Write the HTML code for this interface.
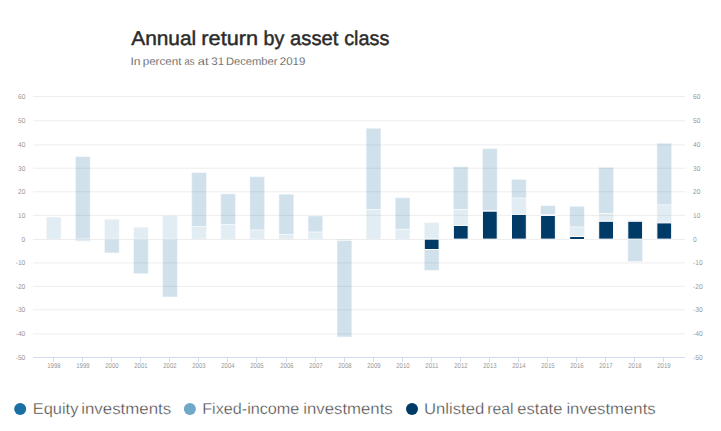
<!DOCTYPE html>
<html><head><meta charset="utf-8"><style>
html,body{margin:0;padding:0;background:#fff;width:721px;height:431px;overflow:hidden}
svg{position:absolute;left:0;top:0;font-family:"Liberation Sans",sans-serif;text-rendering:geometricPrecision}
</style></head><body>
<svg width="721" height="431" viewBox="0 0 721 431">
<text x="131.21" y="44.6" font-size="20" fill="#2b2b2b" stroke="#2b2b2b" stroke-width="0.45" textLength="65.01" lengthAdjust="spacingAndGlyphs">Annual</text>
<text x="201.37" y="44.6" font-size="20" fill="#2b2b2b" stroke="#2b2b2b" stroke-width="0.45" textLength="56.76" lengthAdjust="spacingAndGlyphs">return</text>
<text x="263.46" y="44.6" font-size="20" fill="#2b2b2b" stroke="#2b2b2b" stroke-width="0.45" textLength="20.80" lengthAdjust="spacingAndGlyphs">by</text>
<text x="290.12" y="44.6" font-size="20" fill="#2b2b2b" stroke="#2b2b2b" stroke-width="0.45" textLength="48.30" lengthAdjust="spacingAndGlyphs">asset</text>
<text x="344.19" y="44.6" font-size="20" fill="#2b2b2b" stroke="#2b2b2b" stroke-width="0.45" textLength="45.23" lengthAdjust="spacingAndGlyphs">class</text>
<text x="130.48" y="64.9" font-size="11" fill="#505050" stroke="#fff" stroke-width="0.15" textLength="10.12" lengthAdjust="spacingAndGlyphs">In</text>
<text x="142.70" y="64.9" font-size="11" fill="#505050" stroke="#fff" stroke-width="0.15" textLength="38.74" lengthAdjust="spacingAndGlyphs">percent</text>
<text x="184.44" y="64.9" font-size="11" fill="#505050" stroke="#fff" stroke-width="0.15" textLength="9.87" lengthAdjust="spacingAndGlyphs">as</text>
<text x="197.81" y="64.9" font-size="11" fill="#505050" stroke="#fff" stroke-width="0.15" textLength="10.70" lengthAdjust="spacingAndGlyphs">at</text>
<text x="211.34" y="64.9" font-size="11" fill="#505050" stroke="#fff" stroke-width="0.15" textLength="12.76" lengthAdjust="spacingAndGlyphs">31</text>
<text x="225.95" y="64.9" font-size="11" fill="#505050" stroke="#fff" stroke-width="0.15" textLength="51.52" lengthAdjust="spacingAndGlyphs">December</text>
<text x="279.82" y="64.9" font-size="11" fill="#505050" stroke="#fff" stroke-width="0.15" textLength="25.56" lengthAdjust="spacingAndGlyphs">2019</text>
<text x="32.81" y="413.8" font-size="15.8" fill="#3c3c3c" stroke="#fff" stroke-width="0.35" textLength="45.56" lengthAdjust="spacingAndGlyphs">Equity</text>
<text x="81.20" y="413.8" font-size="15.8" fill="#3c3c3c" stroke="#fff" stroke-width="0.35" textLength="90.06" lengthAdjust="spacingAndGlyphs">investments</text>
<text x="202.26" y="413.8" font-size="15.8" fill="#3c3c3c" stroke="#fff" stroke-width="0.35" textLength="97.00" lengthAdjust="spacingAndGlyphs">Fixed-income</text>
<text x="303.21" y="413.8" font-size="15.8" fill="#3c3c3c" stroke="#fff" stroke-width="0.35" textLength="89.57" lengthAdjust="spacingAndGlyphs">investments</text>
<text x="424.01" y="413.8" font-size="15.8" fill="#3c3c3c" stroke="#fff" stroke-width="0.35" textLength="60.31" lengthAdjust="spacingAndGlyphs">Unlisted</text>
<text x="487.30" y="413.8" font-size="15.8" fill="#3c3c3c" stroke="#fff" stroke-width="0.35" textLength="26.26" lengthAdjust="spacingAndGlyphs">real</text>
<text x="517.34" y="413.8" font-size="15.8" fill="#3c3c3c" stroke="#fff" stroke-width="0.35" textLength="45.05" lengthAdjust="spacingAndGlyphs">estate</text>
<text x="566.40" y="413.8" font-size="15.8" fill="#3c3c3c" stroke="#fff" stroke-width="0.35" textLength="89.28" lengthAdjust="spacingAndGlyphs">investments</text>
<g><line x1="33" x2="685" y1="96.60" y2="96.60" stroke="#ededed" stroke-width="1"/><line x1="33" x2="685" y1="120.80" y2="120.80" stroke="#ededed" stroke-width="1"/><line x1="33" x2="685" y1="144.90" y2="144.90" stroke="#ededed" stroke-width="1"/><line x1="33" x2="685" y1="168.20" y2="168.20" stroke="#ededed" stroke-width="1"/><line x1="33" x2="685" y1="191.80" y2="191.80" stroke="#ededed" stroke-width="1"/><line x1="33" x2="685" y1="215.30" y2="215.30" stroke="#ededed" stroke-width="1"/><line x1="33" x2="685" y1="239.50" y2="239.50" stroke="#ededed" stroke-width="1"/><line x1="33" x2="685" y1="262.90" y2="262.90" stroke="#ededed" stroke-width="1"/><line x1="33" x2="685" y1="286.30" y2="286.30" stroke="#ededed" stroke-width="1"/><line x1="33" x2="685" y1="309.80" y2="309.80" stroke="#ededed" stroke-width="1"/><line x1="33" x2="685" y1="333.90" y2="333.90" stroke="#ededed" stroke-width="1"/></g>
<g font-size="7" fill="#959595"><text x="18.00" y="98.90" textLength="7.3" lengthAdjust="spacingAndGlyphs">60</text><text x="693" y="98.90" textLength="7.3" lengthAdjust="spacingAndGlyphs">60</text><text x="18.00" y="123.10" textLength="7.3" lengthAdjust="spacingAndGlyphs">50</text><text x="693" y="123.10" textLength="7.3" lengthAdjust="spacingAndGlyphs">50</text><text x="18.00" y="147.20" textLength="7.3" lengthAdjust="spacingAndGlyphs">40</text><text x="693" y="147.20" textLength="7.3" lengthAdjust="spacingAndGlyphs">40</text><text x="18.00" y="170.50" textLength="7.3" lengthAdjust="spacingAndGlyphs">30</text><text x="693" y="170.50" textLength="7.3" lengthAdjust="spacingAndGlyphs">30</text><text x="18.00" y="194.10" textLength="7.3" lengthAdjust="spacingAndGlyphs">20</text><text x="693" y="194.10" textLength="7.3" lengthAdjust="spacingAndGlyphs">20</text><text x="18.00" y="217.60" textLength="7.3" lengthAdjust="spacingAndGlyphs">10</text><text x="693" y="217.60" textLength="7.3" lengthAdjust="spacingAndGlyphs">10</text><text x="21.60" y="241.80" textLength="3.7" lengthAdjust="spacingAndGlyphs">0</text><text x="693" y="241.80" textLength="3.7" lengthAdjust="spacingAndGlyphs">0</text><text x="15.70" y="265.20" textLength="9.6" lengthAdjust="spacingAndGlyphs">-10</text><text x="693" y="265.20" textLength="9.6" lengthAdjust="spacingAndGlyphs">-10</text><text x="15.70" y="288.60" textLength="9.6" lengthAdjust="spacingAndGlyphs">-20</text><text x="693" y="288.60" textLength="9.6" lengthAdjust="spacingAndGlyphs">-20</text><text x="15.70" y="312.10" textLength="9.6" lengthAdjust="spacingAndGlyphs">-30</text><text x="693" y="312.10" textLength="9.6" lengthAdjust="spacingAndGlyphs">-30</text><text x="15.70" y="336.20" textLength="9.6" lengthAdjust="spacingAndGlyphs">-40</text><text x="693" y="336.20" textLength="9.6" lengthAdjust="spacingAndGlyphs">-40</text><text x="15.70" y="359.70" textLength="9.6" lengthAdjust="spacingAndGlyphs">-50</text><text x="693" y="359.70" textLength="9.6" lengthAdjust="spacingAndGlyphs">-50</text></g>
<line x1="33" x2="685" y1="357.50" y2="357.50" stroke="#d3dcee" stroke-width="1"/>
<line x1="53.50" x2="53.50" y1="357.50" y2="362.00" stroke="#d3dcee" stroke-width="1"/><line x1="82.50" x2="82.50" y1="357.50" y2="362.00" stroke="#d3dcee" stroke-width="1"/><line x1="111.50" x2="111.50" y1="357.50" y2="362.00" stroke="#d3dcee" stroke-width="1"/><line x1="140.50" x2="140.50" y1="357.50" y2="362.00" stroke="#d3dcee" stroke-width="1"/><line x1="169.50" x2="169.50" y1="357.50" y2="362.00" stroke="#d3dcee" stroke-width="1"/><line x1="198.50" x2="198.50" y1="357.50" y2="362.00" stroke="#d3dcee" stroke-width="1"/><line x1="227.50" x2="227.50" y1="357.50" y2="362.00" stroke="#d3dcee" stroke-width="1"/><line x1="256.50" x2="256.50" y1="357.50" y2="362.00" stroke="#d3dcee" stroke-width="1"/><line x1="286.50" x2="286.50" y1="357.50" y2="362.00" stroke="#d3dcee" stroke-width="1"/><line x1="315.50" x2="315.50" y1="357.50" y2="362.00" stroke="#d3dcee" stroke-width="1"/><line x1="344.50" x2="344.50" y1="357.50" y2="362.00" stroke="#d3dcee" stroke-width="1"/><line x1="373.50" x2="373.50" y1="357.50" y2="362.00" stroke="#d3dcee" stroke-width="1"/><line x1="402.50" x2="402.50" y1="357.50" y2="362.00" stroke="#d3dcee" stroke-width="1"/><line x1="431.50" x2="431.50" y1="357.50" y2="362.00" stroke="#d3dcee" stroke-width="1"/><line x1="460.50" x2="460.50" y1="357.50" y2="362.00" stroke="#d3dcee" stroke-width="1"/><line x1="489.50" x2="489.50" y1="357.50" y2="362.00" stroke="#d3dcee" stroke-width="1"/><line x1="518.50" x2="518.50" y1="357.50" y2="362.00" stroke="#d3dcee" stroke-width="1"/><line x1="547.50" x2="547.50" y1="357.50" y2="362.00" stroke="#d3dcee" stroke-width="1"/><line x1="576.50" x2="576.50" y1="357.50" y2="362.00" stroke="#d3dcee" stroke-width="1"/><line x1="605.50" x2="605.50" y1="357.50" y2="362.00" stroke="#d3dcee" stroke-width="1"/><line x1="634.50" x2="634.50" y1="357.50" y2="362.00" stroke="#d3dcee" stroke-width="1"/><line x1="663.50" x2="663.50" y1="357.50" y2="362.00" stroke="#d3dcee" stroke-width="1"/>
<g font-size="7" fill="#959595"><text x="53.90" y="367.8" text-anchor="middle" textLength="13.2" lengthAdjust="spacingAndGlyphs">1998</text><text x="82.90" y="367.8" text-anchor="middle" textLength="13.2" lengthAdjust="spacingAndGlyphs">1999</text><text x="111.90" y="367.8" text-anchor="middle" textLength="13.2" lengthAdjust="spacingAndGlyphs">2000</text><text x="140.90" y="367.8" text-anchor="middle" textLength="13.2" lengthAdjust="spacingAndGlyphs">2001</text><text x="169.90" y="367.8" text-anchor="middle" textLength="13.2" lengthAdjust="spacingAndGlyphs">2002</text><text x="198.90" y="367.8" text-anchor="middle" textLength="13.2" lengthAdjust="spacingAndGlyphs">2003</text><text x="227.90" y="367.8" text-anchor="middle" textLength="13.2" lengthAdjust="spacingAndGlyphs">2004</text><text x="256.90" y="367.8" text-anchor="middle" textLength="13.2" lengthAdjust="spacingAndGlyphs">2005</text><text x="286.90" y="367.8" text-anchor="middle" textLength="13.2" lengthAdjust="spacingAndGlyphs">2006</text><text x="315.90" y="367.8" text-anchor="middle" textLength="13.2" lengthAdjust="spacingAndGlyphs">2007</text><text x="344.90" y="367.8" text-anchor="middle" textLength="13.2" lengthAdjust="spacingAndGlyphs">2008</text><text x="373.90" y="367.8" text-anchor="middle" textLength="13.2" lengthAdjust="spacingAndGlyphs">2009</text><text x="402.90" y="367.8" text-anchor="middle" textLength="13.2" lengthAdjust="spacingAndGlyphs">2010</text><text x="431.90" y="367.8" text-anchor="middle" textLength="13.2" lengthAdjust="spacingAndGlyphs">2011</text><text x="460.90" y="367.8" text-anchor="middle" textLength="13.2" lengthAdjust="spacingAndGlyphs">2012</text><text x="489.90" y="367.8" text-anchor="middle" textLength="13.2" lengthAdjust="spacingAndGlyphs">2013</text><text x="518.90" y="367.8" text-anchor="middle" textLength="13.2" lengthAdjust="spacingAndGlyphs">2014</text><text x="547.90" y="367.8" text-anchor="middle" textLength="13.2" lengthAdjust="spacingAndGlyphs">2015</text><text x="576.90" y="367.8" text-anchor="middle" textLength="13.2" lengthAdjust="spacingAndGlyphs">2016</text><text x="605.90" y="367.8" text-anchor="middle" textLength="13.2" lengthAdjust="spacingAndGlyphs">2017</text><text x="634.90" y="367.8" text-anchor="middle" textLength="13.2" lengthAdjust="spacingAndGlyphs">2018</text><text x="663.90" y="367.8" text-anchor="middle" textLength="13.2" lengthAdjust="spacingAndGlyphs">2019</text></g>
<g opacity="0.2">
<rect x="75.38" y="156.55" width="14.80" height="82.57" fill="#1a6fa3" stroke="rgba(255,255,255,0.45)" stroke-width="1"/>
<rect x="104.45" y="239.12" width="14.80" height="13.81" fill="#1a6fa3" stroke="rgba(255,255,255,0.45)" stroke-width="1"/>
<rect x="133.52" y="239.12" width="14.80" height="34.63" fill="#1a6fa3" stroke="rgba(255,255,255,0.45)" stroke-width="1"/>
<rect x="162.60" y="239.12" width="14.80" height="57.85" fill="#1a6fa3" stroke="rgba(255,255,255,0.45)" stroke-width="1"/>
<rect x="191.68" y="172.47" width="14.80" height="54.18" fill="#1a6fa3" stroke="rgba(255,255,255,0.45)" stroke-width="1"/>
<rect x="220.75" y="193.81" width="14.80" height="30.84" fill="#1a6fa3" stroke="rgba(255,255,255,0.45)" stroke-width="1"/>
<rect x="249.82" y="176.71" width="14.80" height="53.35" fill="#1a6fa3" stroke="rgba(255,255,255,0.45)" stroke-width="1"/>
<rect x="278.90" y="194.12" width="14.80" height="40.42" fill="#1a6fa3" stroke="rgba(255,255,255,0.45)" stroke-width="1"/>
<rect x="307.98" y="215.92" width="14.80" height="16.18" fill="#1a6fa3" stroke="rgba(255,255,255,0.45)" stroke-width="1"/>
<rect x="337.05" y="240.40" width="14.80" height="96.56" fill="#1a6fa3" stroke="rgba(255,255,255,0.45)" stroke-width="1"/>
<rect x="366.12" y="128.21" width="14.80" height="81.29" fill="#1a6fa3" stroke="rgba(255,255,255,0.45)" stroke-width="1"/>
<rect x="395.20" y="197.73" width="14.80" height="31.64" fill="#1a6fa3" stroke="rgba(255,255,255,0.45)" stroke-width="1"/>
<rect x="424.27" y="249.49" width="14.80" height="20.97" fill="#1a6fa3" stroke="rgba(255,255,255,0.45)" stroke-width="1"/>
<rect x="453.35" y="166.75" width="14.80" height="42.84" fill="#1a6fa3" stroke="rgba(255,255,255,0.45)" stroke-width="1"/>
<rect x="482.43" y="148.58" width="14.80" height="62.34" fill="#1a6fa3" stroke="rgba(255,255,255,0.45)" stroke-width="1"/>
<rect x="511.50" y="179.35" width="14.80" height="18.74" fill="#1a6fa3" stroke="rgba(255,255,255,0.45)" stroke-width="1"/>
<rect x="540.57" y="205.56" width="14.80" height="9.08" fill="#1a6fa3" stroke="rgba(255,255,255,0.45)" stroke-width="1"/>
<rect x="569.65" y="206.34" width="14.80" height="20.68" fill="#1a6fa3" stroke="rgba(255,255,255,0.45)" stroke-width="1"/>
<rect x="598.72" y="167.32" width="14.80" height="46.11" fill="#1a6fa3" stroke="rgba(255,255,255,0.45)" stroke-width="1"/>
<rect x="627.80" y="239.12" width="14.80" height="22.51" fill="#1a6fa3" stroke="rgba(255,255,255,0.45)" stroke-width="1"/>
<rect x="656.87" y="143.24" width="14.80" height="61.72" fill="#1a6fa3" stroke="rgba(255,255,255,0.45)" stroke-width="1"/>
<rect x="46.30" y="217.04" width="14.80" height="22.08" fill="#6fa8c8" stroke="rgba(255,255,255,0.45)" stroke-width="1"/>
<rect x="75.38" y="239.12" width="14.80" height="2.35" fill="#6fa8c8" stroke="rgba(255,255,255,0.45)" stroke-width="1"/>
<rect x="104.45" y="219.17" width="14.80" height="19.95" fill="#6fa8c8" stroke="rgba(255,255,255,0.45)" stroke-width="1"/>
<rect x="133.52" y="227.17" width="14.80" height="11.95" fill="#6fa8c8" stroke="rgba(255,255,255,0.45)" stroke-width="1"/>
<rect x="162.60" y="215.64" width="14.80" height="23.48" fill="#6fa8c8" stroke="rgba(255,255,255,0.45)" stroke-width="1"/>
<rect x="191.68" y="226.64" width="14.80" height="12.48" fill="#6fa8c8" stroke="rgba(255,255,255,0.45)" stroke-width="1"/>
<rect x="220.75" y="224.65" width="14.80" height="14.47" fill="#6fa8c8" stroke="rgba(255,255,255,0.45)" stroke-width="1"/>
<rect x="249.82" y="230.06" width="14.80" height="9.06" fill="#6fa8c8" stroke="rgba(255,255,255,0.45)" stroke-width="1"/>
<rect x="278.90" y="234.54" width="14.80" height="4.58" fill="#6fa8c8" stroke="rgba(255,255,255,0.45)" stroke-width="1"/>
<rect x="307.98" y="232.10" width="14.80" height="7.02" fill="#6fa8c8" stroke="rgba(255,255,255,0.45)" stroke-width="1"/>
<rect x="337.05" y="239.12" width="14.80" height="1.28" fill="#6fa8c8" stroke="rgba(255,255,255,0.45)" stroke-width="1"/>
<rect x="366.12" y="209.49" width="14.80" height="29.63" fill="#6fa8c8" stroke="rgba(255,255,255,0.45)" stroke-width="1"/>
<rect x="395.20" y="229.37" width="14.80" height="9.75" fill="#6fa8c8" stroke="rgba(255,255,255,0.45)" stroke-width="1"/>
<rect x="424.27" y="222.44" width="14.80" height="16.68" fill="#6fa8c8" stroke="rgba(255,255,255,0.45)" stroke-width="1"/>
<rect x="453.35" y="209.59" width="14.80" height="15.84" fill="#6fa8c8" stroke="rgba(255,255,255,0.45)" stroke-width="1"/>
<rect x="482.43" y="210.92" width="14.80" height="0.24" fill="#6fa8c8" stroke="rgba(255,255,255,0.45)" stroke-width="1"/>
<rect x="511.50" y="198.08" width="14.80" height="16.32" fill="#6fa8c8" stroke="rgba(255,255,255,0.45)" stroke-width="1"/>
<rect x="540.57" y="214.64" width="14.80" height="0.78" fill="#6fa8c8" stroke="rgba(255,255,255,0.45)" stroke-width="1"/>
<rect x="569.65" y="227.02" width="14.80" height="10.25" fill="#6fa8c8" stroke="rgba(255,255,255,0.45)" stroke-width="1"/>
<rect x="598.72" y="213.43" width="14.80" height="7.85" fill="#6fa8c8" stroke="rgba(255,255,255,0.45)" stroke-width="1"/>
<rect x="627.80" y="219.93" width="14.80" height="1.33" fill="#6fa8c8" stroke="rgba(255,255,255,0.45)" stroke-width="1"/>
<rect x="656.87" y="204.96" width="14.80" height="17.93" fill="#6fa8c8" stroke="rgba(255,255,255,0.45)" stroke-width="1"/>
</g>
<rect x="424.27" y="239.12" width="14.80" height="10.37" fill="#003a66" stroke="#fff" stroke-width="1"/>
<rect x="453.35" y="225.43" width="14.80" height="13.69" fill="#003a66" stroke="#fff" stroke-width="1"/>
<rect x="482.43" y="211.15" width="14.80" height="27.97" fill="#003a66" stroke="#fff" stroke-width="1"/>
<rect x="511.50" y="214.40" width="14.80" height="24.72" fill="#003a66" stroke="#fff" stroke-width="1"/>
<rect x="540.57" y="215.42" width="14.80" height="23.70" fill="#003a66" stroke="#fff" stroke-width="1"/>
<rect x="569.65" y="236.50" width="14.80" height="3.00" fill="#003a66" stroke="#fff" stroke-width="1"/>
<rect x="598.72" y="221.28" width="14.80" height="17.84" fill="#003a66" stroke="#fff" stroke-width="1"/>
<rect x="627.80" y="221.26" width="14.80" height="17.86" fill="#003a66" stroke="#fff" stroke-width="1"/>
<rect x="656.87" y="222.90" width="14.80" height="16.22" fill="#003a66" stroke="#fff" stroke-width="1"/>
<circle cx="20.2" cy="409" r="6" fill="#1a6fa3"/>
<circle cx="189.9" cy="409" r="6" fill="#6fa8c8"/>
<circle cx="412" cy="409" r="6" fill="#003a66"/>
</svg>
</body></html>
